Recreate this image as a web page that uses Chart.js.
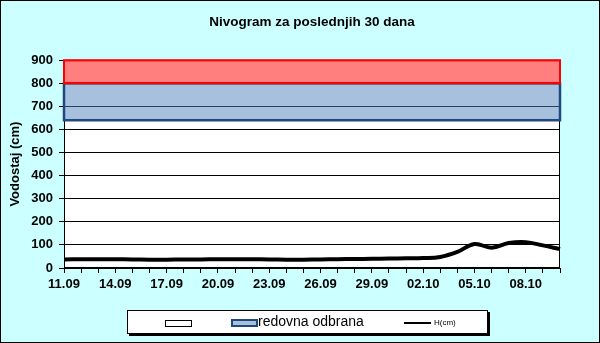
<!DOCTYPE html>
<html>
<head>
<meta charset="utf-8">
<script src="https://cdn.jsdelivr.net/npm/chart.js@4.4.1/dist/chart.umd.min.js"></script>
<style>
body { margin: 0; background: #ccffff; }
#wrap { position: relative; width: 600px; height: 343px; }
#frame { position: absolute; left: 0; top: 0; width: 598px; height: 341px; border: 1px solid #000; pointer-events: none; }
#legend { position: absolute; left: 127px; top: 310px; width: 359px; height: 22px; background: #fff; border: 1px solid #000; box-shadow: 2px 2px 0 #000; font-family: Arial, "Liberation Sans", sans-serif; }
#legend .sw { position: absolute; top: 9px; }
#legend span { position: absolute; white-space: nowrap; color: #000; }
</style>
</head>
<body>
<div id="wrap">
  <canvas id="nivo" width="600" height="343"></canvas>
  <div id="frame"></div>
  <div id="legend">
    <div class="sw" style="left:37px;width:25px;height:5px;border:1px solid #000;background:#fff"></div>
    <div class="sw" style="left:103px;top:8px;width:23px;height:4px;border:2px solid #1f497d;background:#a7c0de"></div>
    <span style="left:130px;top:2px;font-size:14px">redovna odbrana</span>
    <div class="sw" style="left:276px;top:11px;width:27px;height:2px;background:#000"></div>
    <span style="left:306px;top:7px;font-size:8px">H(cm)</span>
  </div>
</div>
<script>
// dani (x osa)
const dani = ['11.09','12.09','13.09','14.09','15.09','16.09','17.09','18.09','19.09','20.09',
              '21.09','22.09','23.09','24.09','25.09','26.09','27.09','28.09','29.09','30.09',
              '01.10','02.10','03.10','04.10','05.10','06.10','07.10','08.10','09.10','10.10'];
// vodostaj H(cm)
const vodostaj = [37, 38, 38, 38, 37, 36, 36, 37, 37, 38,
                  38, 38, 37, 36, 36, 37, 38, 39, 40, 41,
                  42, 43, 48, 70, 104, 88, 108, 112, 98, 82];
// pojasevi odbrane
const pojasOd = [640, 800];
const pojasDo = [800, 900];
// y osa
const yMin = 0, yMax = 900, yKorak = 100;

// bela pozadina i pojasevi
const pojasPlugin = {
  id: 'pojas',
  beforeDraw(chart) {
    const a = chart.chartArea, ctx = chart.ctx;
    ctx.save();
    ctx.fillStyle = '#fff';
    ctx.fillRect(a.left, a.top, a.right - a.left, a.bottom - a.top);
    ctx.restore();
  },
  beforeDatasetsDraw(chart) {
    const a = chart.chartArea, ctx = chart.ctx, y = chart.scales.y;
    ctx.save();
    ctx.strokeStyle = '#000';
    ctx.lineWidth = 1;
    ctx.strokeRect(a.left + 0.5, a.top + 0.5, a.right - a.left - 1, a.bottom - a.top - 1);
    const fill = ['rgba(79,129,189,0.5)', 'rgba(255,0,0,0.5)'];
    const line = ['#1f497d', '#ff0000'];
    const lw = [2.5, 2];
    for (let i = 0; i < pojasOd.length; i++) {
      const y1 = y.getPixelForValue(pojasDo[i]);
      const y2 = y.getPixelForValue(pojasOd[i]);
      ctx.fillStyle = fill[i];
      ctx.fillRect(a.left, y1, a.right - a.left, y2 - y1);
      ctx.strokeStyle = line[i];
      ctx.lineWidth = lw[i];
      ctx.strokeRect(a.left, y1, a.right - a.left, y2 - y1);
    }
    ctx.restore();
  }
};

new Chart(document.getElementById('nivo'), {
  type: 'line',
  data: {
    labels: dani,
    datasets: [{
      label: 'H(cm)',
      data: vodostaj,
      borderColor: '#000',
      borderWidth: 4,
      pointRadius: 0,
      tension: 0.4,
      fill: false
    }]
  },
  options: {
    responsive: false,
    animation: false,
    layout: { padding: { left: 0, right: 40, top: 0, bottom: 45 } },
    plugins: {
      legend: { display: false },
      tooltip: { enabled: false },
      title: {
        display: true,
        fullSize: false,
        text: 'Nivogram za poslednjih 30 dana',
        color: '#000',
        font: { family: 'Arial, "Liberation Sans"', size: 13.5, weight: 'bold' },
        padding: { top: 14, bottom: 30 }
      }
    },
    scales: {
      x: {
        offset: false,
        grid: { drawOnChartArea: false, color: '#000', tickLength: 5 },
        border: { display: true, color: '#000' },
        ticks: {
          autoSkip: false,
          maxRotation: 0,
          padding: 4,
          color: '#000',
          font: { family: 'Arial, "Liberation Sans"', size: 13, weight: 'bold' },
          callback: (v, i) => (i % 3 === 0 ? dani[i] : '')
        },
        afterFit(s) { s.height = 30; }
      },
      y: {
        min: yMin,
        max: yMax,
        grid: { color: '#000', tickLength: 5 },
        border: { display: true, color: '#000' },
        ticks: {
          stepSize: yKorak,
          padding: 6,
          color: '#000',
          font: { family: 'Arial, "Liberation Sans"', size: 13, weight: 'bold' }
        },
        title: {
          display: true,
          text: 'Vodostaj (cm)',
          color: '#000',
          font: { family: 'Arial, "Liberation Sans"', size: 13, weight: 'bold' },
          padding: { top: 8, bottom: 0 }
        },
        afterFit(s) { s.width = 64; }
      }
    }
  },
  plugins: [pojasPlugin]
});
</script>
</body>
</html>
